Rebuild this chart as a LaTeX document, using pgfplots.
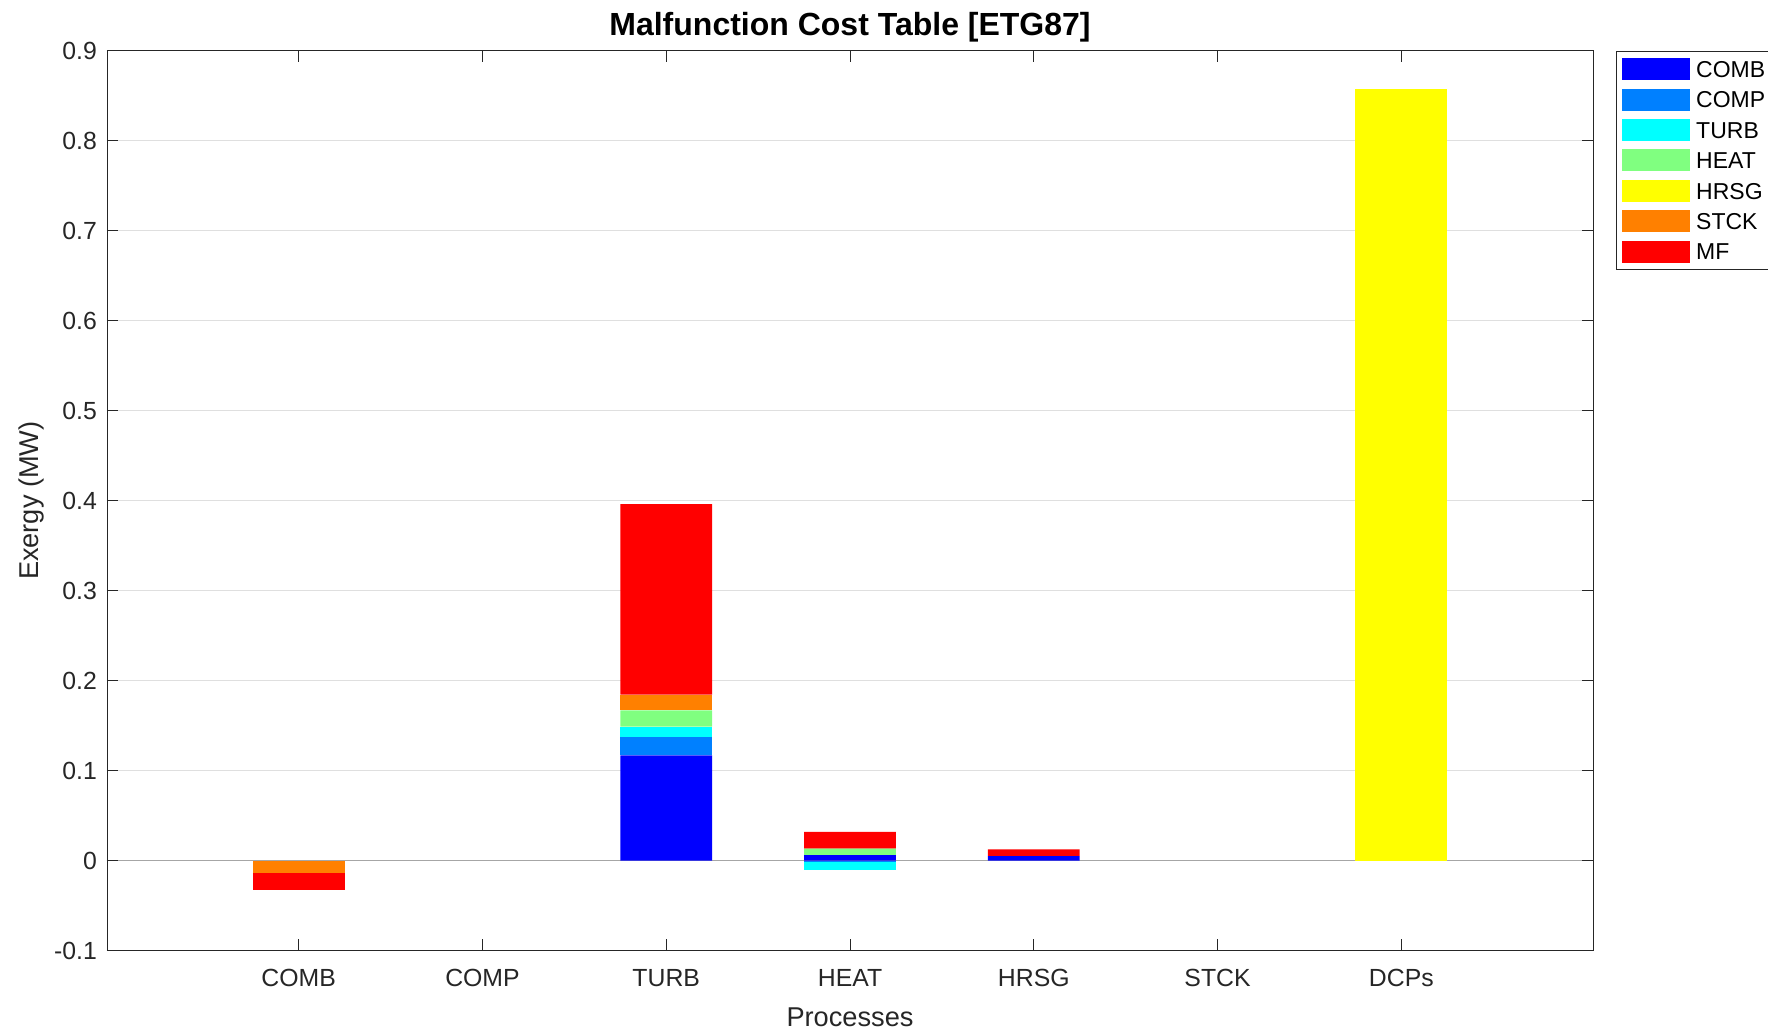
\documentclass[border=0pt]{standalone}
\usepackage{pgfplots}
\usepackage{pgfplotstable}
\pgfplotsset{compat=1.18}
\usepackage{fontspec}
\setmainfont{Liberation Sans}
\definecolor{cCOMB}{RGB}{0,0,255}
\definecolor{cCOMP}{RGB}{0,128,255}
\definecolor{cTURB}{RGB}{0,255,255}
\definecolor{cHEAT}{RGB}{128,255,128}
\definecolor{cHRSG}{RGB}{255,255,0}
\definecolor{cSTCK}{RGB}{255,128,0}
\definecolor{cMF}{RGB}{255,0,0}
\definecolor{axgray}{RGB}{38,38,38}
\definecolor{gridgray}{RGB}{223,223,223}

% positive parts of each stacked bar
\pgfplotstableread{
x COMB COMP TURB HEAT HRSG STCK MF
1 0 0 0 0 0 0 0
2 0 0 0 0 0 0 0
3 0.117 0.020 0.012 0.018 0 0.0175 0.2115
4 0.006 0 0 0.0074 0 0 0.0185
5 0.005 0 0 0 0 0 0.0075
6 0 0 0 0 0 0 0
7 0 0 0 0 0.857 0 0
}\postab
% negative parts of each stacked bar
\pgfplotstableread{
x COMP TURB STCK MF
1 0 0 -0.014 -0.019
2 0 0 0 0
3 0 0 0 0
4 -0.002 -0.008 0 0
5 0 0 0 0
6 0 0 0 0
7 0 0 0 0
}\negtab

\pgfplotsset{
  common/.style={
    width=743pt, height=450pt, scale only axis,
    at={(0,0)}, anchor=south west,
    xmin=-0.043, xmax=8.043, ymin=-0.1, ymax=0.9,
    ybar stacked, bar width=0.5,
    xtick={1,2,3,4,5,6,7},
    xticklabels={COMB,COMP,TURB,HEAT,HRSG,STCK,DCPs},
    ytick={-0.1,0,0.1,0.2,0.3,0.4,0.5,0.6,0.7,0.8,0.9},
  },
  legimg/.style={legend image code/.code={\fill[##1] (0pt,-5.5pt) rectangle (34pt,5.5pt);}},
}

\begin{document}
\begin{tikzpicture}
\useasboundingbox (-53.5pt,-39.7pt) rectangle (830.5pt,475.3pt);
\begin{axis}[common,
  axis line style={axgray},
  tick style={axgray, line width=0.5pt},
  major tick length=5.6pt,
  tick align=inside, xtick pos=both, ytick pos=both,
  ymajorgrids, grid style={gridgray, line width=0.6pt},
  extra y ticks={0}, extra y tick labels={},
  extra y tick style={grid=major, major grid style={gray!70, line width=0.8pt}},
  /pgf/number format/assume math mode=true,
  yticklabel style={/pgf/number format/fixed, /pgf/number format/precision=1,
    font=\fontsize{12.4}{12.4}\selectfont, text=axgray, xshift=-1.5pt},
  xticklabel style={font=\fontsize{12.4}{12.4}\selectfont, text=axgray, yshift=-5.9pt},
  title={Malfunction Cost Table [ETG87]},
  title style={font=\fontsize{16}{16}\selectfont\bfseries, at={(axis description cs:0.5,1)}, anchor=base, yshift=1.6pt},
  xlabel={Processes},
  xlabel style={font=\fontsize{13.6}{13.6}\selectfont, text=axgray, at={(axis description cs:0.5,-0.0736)}, anchor=center},
  ylabel={Exergy (MW)},
  ylabel style={font=\fontsize{13.6}{13.6}\selectfont, text=axgray, at={(axis description cs:-0.0509,0.5)}, anchor=center, rotate=0},
  legimg,
  legend style={at={(1.0155,1)}, anchor=north west, draw=axgray, line width=0.6pt,
    fill=white, inner xsep=2.5pt, inner ysep=3.5pt,
    font=\fontsize{11.5}{11.5}\selectfont,
    nodes={inner sep=0pt, text height=8.3pt, text depth=0pt},
    row sep=4.2pt, /tikz/every odd column/.append style={column sep=3.3pt}},
  legend cell align=left,
]
\addplot[fill=cCOMB, draw=none] table[x=x, y=COMB] {\postab};
\addplot[fill=cCOMP, draw=none] table[x=x, y=COMP] {\postab};
\addplot[fill=cTURB, draw=none] table[x=x, y=TURB] {\postab};
\addplot[fill=cHEAT, draw=none] table[x=x, y=HEAT] {\postab};
\addplot[fill=cHRSG, draw=none] table[x=x, y=HRSG] {\postab};
\addplot[fill=cSTCK, draw=none] table[x=x, y=STCK] {\postab};
\addplot[fill=cMF, draw=none] table[x=x, y=MF] {\postab};
\legend{COMB,COMP,TURB,HEAT,HRSG,STCK,MF}
\end{axis}
\begin{axis}[common, hide axis]
\addplot[fill=cCOMP, draw=none] table[x=x, y=COMP] {\negtab};
\addplot[fill=cTURB, draw=none] table[x=x, y=TURB] {\negtab};
\addplot[fill=cSTCK, draw=none] table[x=x, y=STCK] {\negtab};
\addplot[fill=cMF, draw=none] table[x=x, y=MF] {\negtab};
\end{axis}
\end{tikzpicture}
\end{document}
